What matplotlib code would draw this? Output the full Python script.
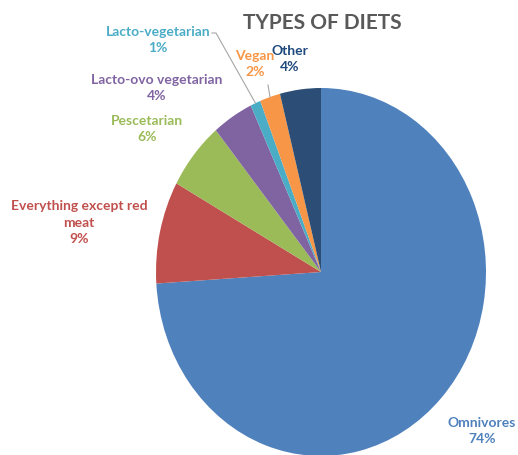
import numpy as np
import matplotlib.pyplot as plt

categories = ['Omnivores', 'Everything except red\nmeat', 'Pescetarian',
              'Lacto-ovo vegetarian', 'Lacto-vegetarian', 'Vegan', 'Other']
shares = [74, 9, 6, 4, 1, 2, 4]

colors = ['#4F81BD', '#C0504D', '#9BBB59', '#8064A2', '#4BACC6', '#F79646', '#2C4D75']
text_colors = ['#4F81BD', '#C0504D', '#9BBB59', '#8064A2', '#4BACC6', '#F79646', '#1F497D']

# label block centres in pixels (x from left, y from top)
label_px = [(482, 431), (79, 223), (147, 129), (157, 88), (158, 40), (255, 64), (290, 59)]
# labels that get a leader line: index -> label-side end point in pixels
leaders = {4: [(212, 33), (216, 33)], 5: [(268, 85)]}

W, H = 518, 455
cx, cy, rx, ry = 321, 272, 165, 184

plt.rcParams['font.family'] = ['Lato', 'DejaVu Sans']
fig = plt.figure(figsize=(W / 100, H / 100), dpi=100)
ax = fig.add_axes([0, 0, 1, 1])

wedges, _ = ax.pie(shares, colors=colors, startangle=90, counterclock=False,
                   wedgeprops=dict(linewidth=0))
ax.set_aspect('auto')
ax.set_xlim(-cx / rx, (W - cx) / rx)
ax.set_ylim(-(H - cy) / ry, cy / ry)
ax.axis('off')


def to_data(px, py):
    return (px - cx) / rx, (cy - py) / ry


for i, (name, val) in enumerate(zip(categories, shares)):
    x, y = to_data(*label_px[i])
    ax.text(x, y, f'{name}\n{val}%', ha='center', va='center', fontsize=10,
            fontweight='bold', color=text_colors[i], linespacing=1.45)

# leader lines from label to the middle of the wedge edge
cum = np.cumsum([0] + shares)
for i, pts in leaders.items():
    mid = (cum[i] + cum[i + 1]) / 2 / sum(shares)
    ang = np.deg2rad(90 - 360 * mid)
    xs = [to_data(*p)[0] for p in pts] + [np.cos(ang)]
    ys = [to_data(*p)[1] for p in pts] + [np.sin(ang)]
    ax.plot(xs, ys, color='#A6A6A6', linewidth=0.8)

fig.text(322 / W, 1 - 23 / H, 'TYPES OF DIETS', ha='center', va='center',
         fontsize=15, fontweight='bold', color='#595959')

fig.savefig('out.png', dpi=100)
